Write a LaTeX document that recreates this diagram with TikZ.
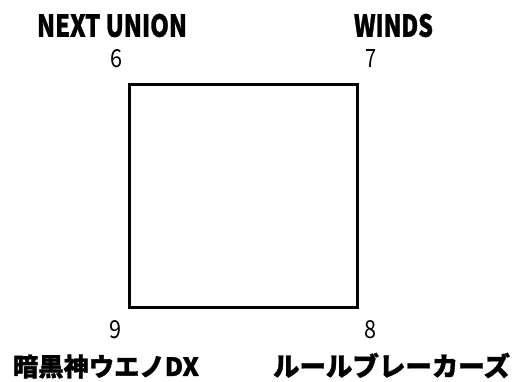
\documentclass[tikz,border=0pt]{standalone}
\usepackage{fontspec}
\setmainfont{Liberation Sans}
\newfontfamily\jp{Noto Sans CJK JP}[BoldFeatures={FakeBold=1.2}]
\begin{document}
\begin{tikzpicture}[x=1pt,y=-1pt,
  latin/.style={inner sep=0pt, font=\jp\bfseries},
  jtitle/.style={inner sep=0pt, anchor=base, font=\jp\bfseries\fontsize{26.5}{26.5}\selectfont},
  num/.style={inner sep=0pt, font=\jp\fontsize{25}{25}\selectfont},
  box/.style={line width=3pt}]
\useasboundingbox (0,0) rectangle (512,382);
\coordinate (c6) at (129.5,84.5);
\coordinate (c8) at (357.5,307.5);
\draw[box] (c6) rectangle (c8);
\node[latin] (nu) at (112,25.5) {\resizebox{150pt}{23pt}{NEXT UNION}};
\node[latin] (wi) at (393.5,25.5) {\resizebox{79pt}{23pt}{WINDS}};
\node[num] (n6) at (116,59) {\resizebox{12pt}{18pt}{6}};
\node[num] (n7) at (371,59) {\resizebox{11pt}{18pt}{7}};
\node[num] (n9) at (115,330) {\resizebox{12pt}{18pt}{9}};
\node[num] (n8) at (370,330) {\resizebox{12pt}{18pt}{8}};
\node[jtitle] (an) at (106,376) {\resizebox{186pt}{!}{暗黒神ウエノDX}};
\node[jtitle] (ru) at (391.5,376) {\resizebox{237pt}{!}{ルールブレーカーズ}};
\end{tikzpicture}
\end{document}
